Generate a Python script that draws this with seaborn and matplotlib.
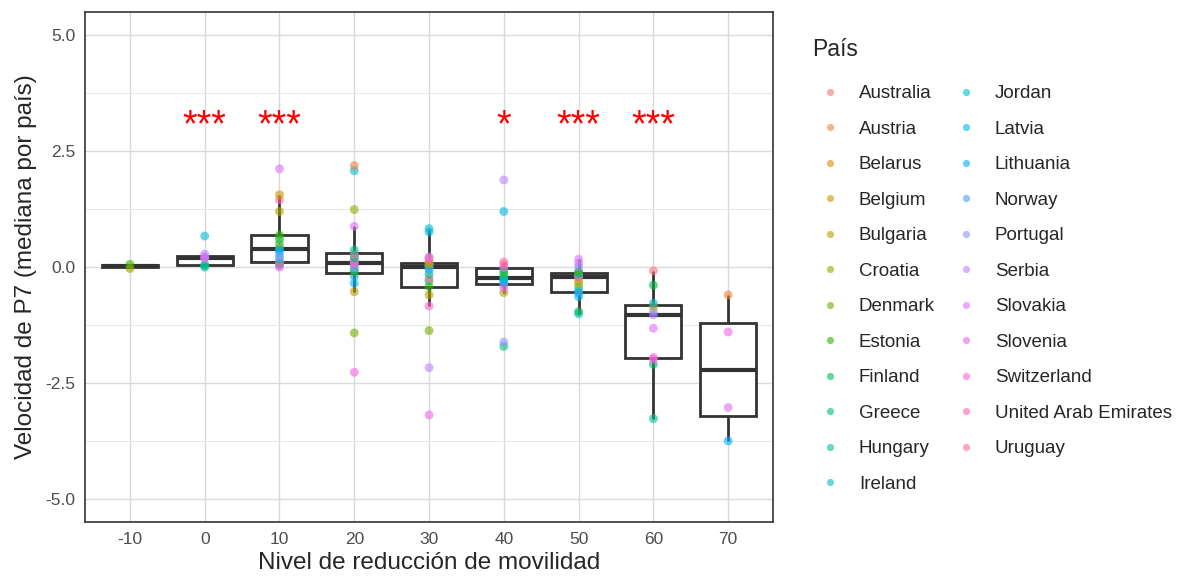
import numpy as np
import pandas as pd
import seaborn as sns
import matplotlib.pyplot as plt
from matplotlib.lines import Line2D

# mobility reduction levels (x categories)
levels = ["-10", "0", "10", "20", "30", "40", "50", "60", "70"]

countries = ["Australia", "Austria", "Belarus", "Belgium", "Bulgaria", "Croatia",
             "Denmark", "Estonia", "Finland", "Greece", "Hungary", "Ireland",
             "Jordan", "Latvia", "Lithuania", "Norway", "Portugal", "Serbia",
             "Slovakia", "Slovenia", "Switzerland", "United Arab Emirates", "Uruguay"]

# median P7 speed per country at each level
ctry_m10 = ["Estonia", "Croatia"]
vals_m10 = [0.06, -0.03]

ctry_0 = ["Hungary", "Ireland", "Greece", "Portugal", "Slovenia", "Slovakia", "Serbia", "Jordan"]
vals_0 = [0.0, 0.03, 0.05, 0.19, 0.20, 0.22, 0.28, 0.67]

ctry_10 = ["Slovenia", "Serbia", "Switzerland", "Greece", "United Arab Emirates", "Latvia",
           "Portugal", "Norway", "Lithuania", "Jordan", "Denmark", "Finland", "Estonia",
           "Bulgaria", "Uruguay", "Belgium", "Slovakia"]
vals_10 = [0.0, 0.03, 0.06, 0.08, 0.10, 0.18, 0.25, 0.32, 0.38, 0.42, 0.5, 0.6, 0.69,
           1.2, 1.45, 1.56, 2.12]

ctry_20 = ["Slovenia", "Denmark", "Bulgaria", "Latvia", "Lithuania", "Estonia", "Greece",
           "Portugal", "Norway", "Switzerland", "United Arab Emirates", "Serbia", "Finland",
           "Ireland", "Uruguay", "Hungary", "Slovakia", "Croatia", "Jordan", "Austria"]
vals_20 = [-2.27, -1.42, -0.53, -0.35, -0.2, -0.1, -0.05, 0.0, 0.05, 0.08, 0.1, 0.15, 0.2,
           0.25, 0.27, 0.37, 0.88, 1.24, 2.08, 2.19]

ctry_30 = ["Slovenia", "Serbia", "Denmark", "Switzerland", "Bulgaria", "Estonia", "Finland",
           "United Arab Emirates", "Greece", "Lithuania", "Portugal", "Norway", "Hungary",
           "Ireland", "Croatia", "Belarus", "Australia", "Uruguay", "Slovakia", "Latvia", "Jordan"]
vals_30 = [-3.19, -2.17, -1.37, -0.84, -0.6, -0.42, -0.3, -0.24, -0.15, -0.05, 0.0, 0.02,
           0.04, 0.06, 0.08, 0.09, 0.15, 0.2, 0.22, 0.76, 0.83]

ctry_40 = ["Greece", "Portugal", "Bulgaria", "Slovenia", "Switzerland", "Jordan", "Norway",
           "Lithuania", "Hungary", "Ireland", "Estonia", "Finland", "Slovakia",
           "United Arab Emirates", "Uruguay", "Latvia", "Serbia"]
vals_40 = [-1.71, -1.62, -0.55, -0.45, -0.37, -0.33, -0.3, -0.26, -0.23, -0.18, -0.12,
           -0.05, -0.01, 0.05, 0.11, 1.2, 1.88]

ctry_50 = ["Jordan", "Finland", "Latvia", "Lithuania", "Norway", "Ireland", "Bulgaria",
           "Croatia", "United Arab Emirates", "Uruguay", "Switzerland", "Hungary", "Greece",
           "Estonia", "Portugal", "Serbia", "Slovakia"]
vals_50 = [-1.01, -0.96, -0.64, -0.55, -0.53, -0.45, -0.37, -0.3, -0.21, -0.2, -0.18,
           -0.15, -0.12, -0.1, 0.0, 0.08, 0.17]

ctry_60 = ["Hungary", "Greece", "Switzerland", "Slovenia", "Slovakia", "Serbia", "Portugal",
           "Belgium", "Jordan", "Finland", "Australia"]
vals_60 = [-3.27, -2.1, -1.99, -1.95, -1.32, -1.03, -0.95, -0.85, -0.78, -0.39, -0.08]

ctry_70 = ["Lithuania", "Slovakia", "Slovenia", "Austria"]
vals_70 = [-3.75, -3.03, -1.4, -0.6]

# significance stars
sig_levels = ["0", "10", "40", "50", "60"]
sig_labels = ["***", "***", "*", "***", "***"]

y_ticks = [-5.0, -2.5, 0.0, 2.5, 5.0]
y_ticklabels = ["-5.0", "-2.5", "0.0", "2.5", "5.0"]

groups = [(ctry_m10, vals_m10), (ctry_0, vals_0), (ctry_10, vals_10), (ctry_20, vals_20),
          (ctry_30, vals_30), (ctry_40, vals_40), (ctry_50, vals_50), (ctry_60, vals_60),
          (ctry_70, vals_70)]
rows = []
for lev, (cs, vs) in zip(levels, groups):
    for c, v in zip(cs, vs):
        rows.append({"level": lev, "country": c, "value": v})
df = pd.DataFrame(rows)


def gg_hue(n, c=100, l=65):
    # ggplot2 default hue palette (HCL -> sRGB)
    hues = np.linspace(15, 375, n + 1)[:-1]
    Y = ((l + 16) / 116) ** 3
    un, vn = 0.1978398, 0.4683363
    out = []
    for h in hues:
        u = c * np.cos(np.radians(h))
        v = c * np.sin(np.radians(h))
        up = u / (13 * l) + un
        vp = v / (13 * l) + vn
        X = Y * 9 * up / (4 * vp)
        Z = Y * (12 - 3 * up - 20 * vp) / (4 * vp)
        r = 3.2404542 * X - 1.5371385 * Y - 0.4985314 * Z
        g = -0.9692660 * X + 1.8760108 * Y + 0.0415560 * Z
        b = 0.0556434 * X - 0.2040259 * Y + 1.0572252 * Z
        rgb = []
        for ch in (r, g, b):
            ch = 12.92 * ch if ch <= 0.0031308 else 1.055 * ch ** (1 / 2.4) - 0.055
            rgb.append(min(max(ch, 0), 1))
        out.append(tuple(rgb))
    return out


pal = dict(zip(countries, gg_hue(len(countries))))

sns.set_style("white")
plt.rcParams["font.family"] = ["Liberation Sans", "DejaVu Sans"]

fig = plt.figure(figsize=(11.88, 5.79), dpi=100)
ax = fig.add_axes([0.0716, 0.0984, 0.5791, 0.8806])

sns.boxplot(data=df, x="level", y="value", order=levels, color="white",
            linecolor="#333333", linewidth=2.0, width=0.75, showfliers=False,
            showcaps=False, medianprops={"linewidth": 3.0}, ax=ax)
sns.stripplot(data=df, x="level", y="value", order=levels, hue="country",
              hue_order=countries, palette=pal, jitter=False, size=6.4, alpha=0.6,
              linewidth=0, legend=False, zorder=3, ax=ax)

for lev, lab in zip(sig_levels, sig_labels):
    ax.text(levels.index(lev), 2.82, lab, color="red", fontsize=27,
            ha="center", va="baseline", zorder=4)

ax.set_xlim(-0.6, 8.6)
ax.set_ylim(-5.5, 5.5)
ax.set_yticks(y_ticks)
ax.set_yticklabels(y_ticklabels)
ax.set_yticks([-3.75, -1.25, 1.25, 3.75], minor=True)
ax.set_axisbelow(True)
ax.xaxis.grid(True, color="#DADADA", linewidth=1.0)
ax.yaxis.grid(True, which="major", color="#DADADA", linewidth=1.0)
ax.yaxis.grid(True, which="minor", color="#E8E8E8", linewidth=0.7)
ax.tick_params(axis="both", which="major", direction="out", length=4, width=1,
               color="#333333", labelcolor="#4D4D4D", labelsize=12.5, pad=3)
ax.tick_params(axis="y", which="minor", length=0)
for s in ax.spines.values():
    s.set_color("#333333")
    s.set_linewidth(1.2)

ax.set_xlabel("Nivel de reducción de movilidad", fontsize=17.5, labelpad=4)
ax.set_ylabel("Velocidad de P7 (mediana por país)", fontsize=17.5, labelpad=6)

handles = [Line2D([], [], marker="o", linestyle="", markersize=5.2, alpha=0.6,
                  markerfacecolor=pal[c], markeredgewidth=0) for c in countries]
leg = fig.legend(handles, countries, title="País", loc="upper left",
                 bbox_to_anchor=(0.6835, 0.935), ncol=2, frameon=False,
                 fontsize=13.5, title_fontsize=16.5, labelspacing=0.98,
                 handlelength=1.9, handletextpad=0.6, columnspacing=0.7,
                 borderpad=0, borderaxespad=0, alignment="left")
# a bit more room between the title and the entries
leg._legend_box.sep = 17.5

fig.savefig("out.png", dpi=100)
